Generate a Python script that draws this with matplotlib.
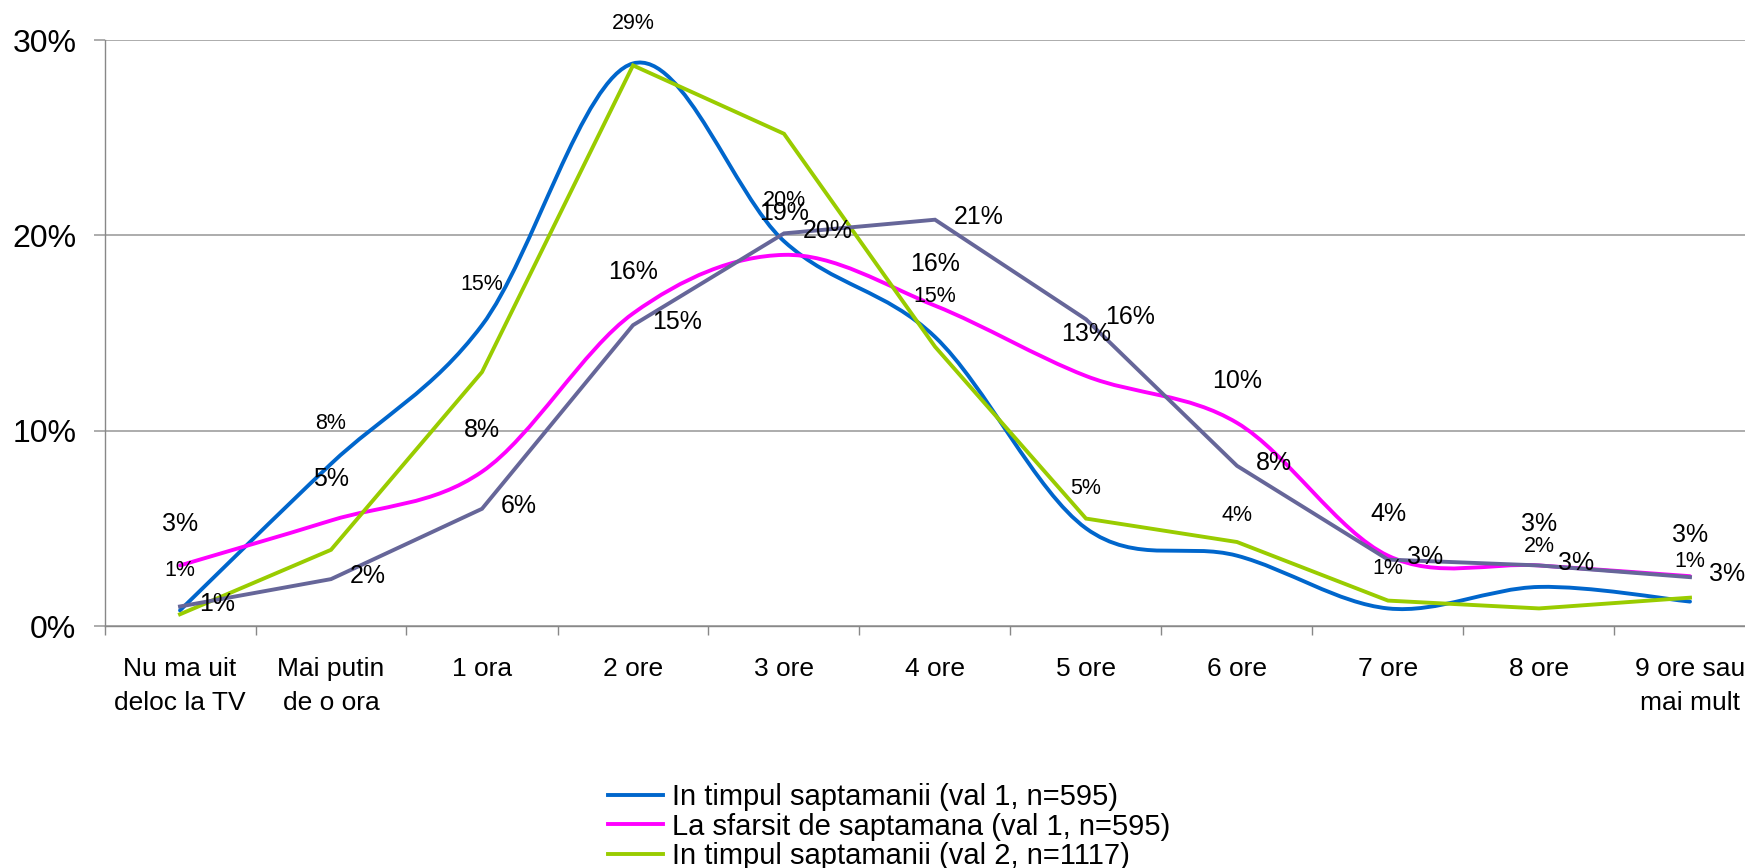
import matplotlib
matplotlib.use('Agg')
import matplotlib.pyplot as plt
from matplotlib.path import Path
from matplotlib.patches import PathPatch
from matplotlib.lines import Line2D

plt.rcParams['font.family'] = ['Liberation Sans', 'DejaVu Sans']

# Date
categorii = ['Nu ma uit\ndeloc la TV', 'Mai putin\nde o ora', '1 ora', '2 ore', '3 ore',
             '4 ore', '5 ore', '6 ore', '7 ore', '8 ore', '9 ore sau\nmai mult']
sapt_val1 = [0.8, 8.3, 15.4, 28.8, 19.7, 14.8, 5.0, 3.6, 0.9, 2.0, 1.25]
wkend_val1 = [3.1, 5.4, 7.9, 16.0, 19.0, 16.4, 12.8, 10.4, 3.6, 3.1, 2.55]
sapt_val2 = [0.6, 3.9, 13.0, 28.7, 25.2, 14.3, 5.5, 4.3, 1.3, 0.9, 1.45]
wkend_val2 = [1.0, 2.4, 6.0, 15.4, 20.1, 20.8, 15.7, 8.2, 3.4, 3.1, 2.5]

etichete = ['In timpul saptamanii (val 1, n=595)',
            'La sfarsit de saptamana (val 1, n=595)',
            'In timpul saptamanii (val 2, n=1117)',
            'La sfarsit de saptamana (val 2, n=1117)']
culori = ['#0066CC', '#FF00FF', '#99CC00', '#666699']


def procent(v):
    return f'{int(v + 0.5)}%'


def linie_netezita(xs, ys):
    # curba Bezier ca in Excel (linie netezita)
    n = len(xs)
    verts = [(xs[0], ys[0])]
    codes = [Path.MOVETO]
    for i in range(n - 1):
        xa, ya = (xs[i - 1], ys[i - 1]) if i > 0 else (xs[i], ys[i])
        xb, yb = (xs[i + 2], ys[i + 2]) if i + 2 < n else (xs[i + 1], ys[i + 1])
        c1 = (xs[i] + (xs[i + 1] - xa) / 6, ys[i] + (ys[i + 1] - ya) / 6)
        c2 = (xs[i + 1] - (xb - xs[i]) / 6, ys[i + 1] - (yb - ys[i]) / 6)
        verts += [c1, c2, (xs[i + 1], ys[i + 1])]
        codes += [Path.CURVE4] * 3
    return Path(verts, codes)


fig = plt.figure(figsize=(17.45, 8.68), dpi=100)
ax = fig.add_axes([104.5 / 1745, 242 / 868, 1661 / 1745, 586 / 868])

x = list(range(len(categorii)))
lw = 2.8

# linii netezite
for vals, c in [(sapt_val1, culori[0]), (wkend_val1, culori[1])]:
    ax.add_patch(PathPatch(linie_netezita(x, vals), facecolor='none', edgecolor=c,
                           lw=lw, capstyle='round', joinstyle='round', zorder=3))
# linii drepte
ax.plot(x, sapt_val2, color=culori[2], lw=lw, zorder=3, solid_joinstyle='miter')
ax.plot(x, wkend_val2, color=culori[3], lw=lw, zorder=3, solid_joinstyle='miter')

# etichete de date
for i, v in enumerate(sapt_val1):
    ax.annotate(procent(v), (i, v), xytext=(0, 29), textcoords='offset points',
                ha='center', va='center', fontsize=15.5, zorder=5)
for i, v in enumerate(wkend_val1):
    ax.annotate(procent(v), (i, v), xytext=(0, 30), textcoords='offset points',
                ha='center', va='center', fontsize=18, zorder=5)
for i, v in enumerate(wkend_val2):
    ax.annotate(procent(v), (i, v), xytext=(13.5, 2), textcoords='offset points',
                ha='left', va='center', fontsize=18, zorder=5)

ax.set_xlim(-0.5, len(categorii) - 0.5)
ax.set_ylim(0, 30)
ax.set_yticks([0, 10, 20, 30])
ax.set_yticklabels(['0%', '10%', '20%', '30%'])
ax.grid(axis='y', color='#A6A6A6', lw=1.3, zorder=0)

ax.set_xticks([i - 0.5 for i in range(len(categorii) + 1)])
ax.set_xticklabels([])
ax.set_xticks(x, minor=True)
ax.set_xticklabels(categorii, minor=True, fontsize=19, linespacing=1.53)
ax.tick_params(axis='x', which='major', length=6.5, color='#888888', width=1)
ax.tick_params(axis='x', which='minor', length=0, pad=22.5)
ax.tick_params(axis='y', length=7.7, color='#A6A6A6', width=1.3, labelsize=23, pad=12.5)

for s in ['top', 'right']:
    ax.spines[s].set_visible(False)
for s in ['left', 'bottom']:
    ax.spines[s].set_color('#888888')
    ax.spines[s].set_linewidth(1)

handles = [Line2D([], [], color=c, lw=lw) for c in culori]
fig.legend(handles, etichete, loc='upper left', bbox_to_anchor=(608 / 1745, 0.098),
           frameon=False, fontsize=21, handlelength=1.9, handletextpad=0.3,
           borderpad=0, borderaxespad=0, labelspacing=0.06)

fig.savefig('out.png', dpi=100)
